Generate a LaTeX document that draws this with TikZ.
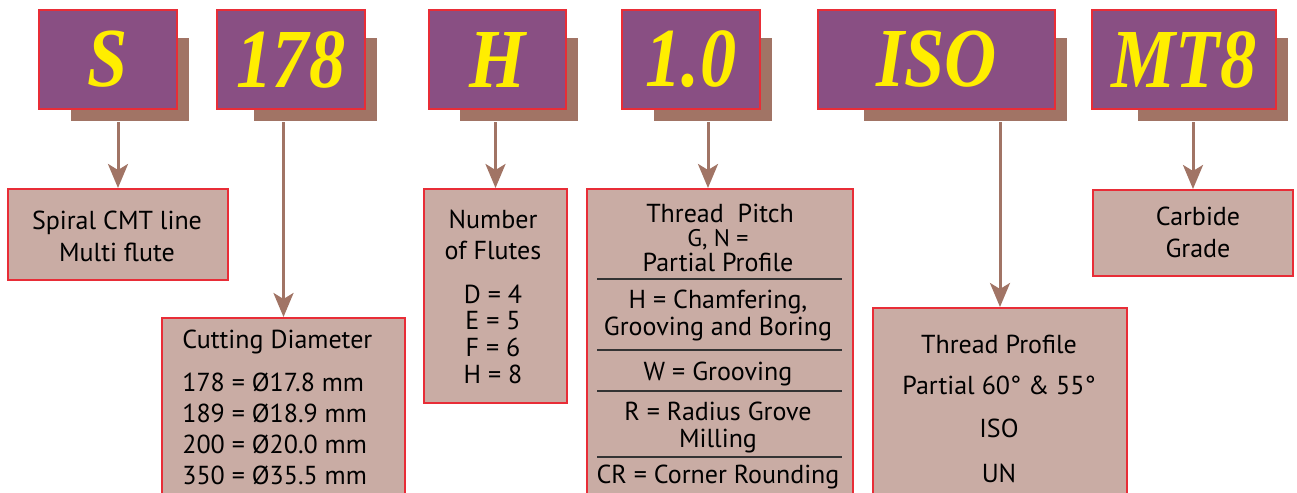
\documentclass[tikz,border=0pt]{standalone}
\usepackage{fontspec}
\setmainfont{PT Sans}
\newfontfamily\codefont[FakeStretch=0.86]{Liberation Serif}
\usetikzlibrary{arrows.meta}
\usetikzlibrary{calc}
\definecolor{TagPurple}{RGB}{137,79,131}
\definecolor{TagShadow}{RGB}{161,116,101}
\definecolor{TagYellow}{RGB}{255,238,0}
\definecolor{BoxFill}{RGB}{201,172,164}
\definecolor{BoxRed}{RGB}{232,45,55}
\tikzset{
	>={Stealth[length=12pt, width=10pt, inset=3pt]},
	codebox/.style={draw=BoxRed, line width=1pt, fill=TagPurple, text=TagYellow,
		minimum height=49.5pt, inner sep=0pt,
		font=\codefont\bfseries\itshape\fontsize{42}{42}\selectfont},
	shade/.style={fill=TagShadow},
	infobox/.style={draw=BoxRed, line width=1pt, fill=BoxFill, anchor=north west, inner sep=0pt},
	txt/.style={anchor=base, inner sep=0pt, font=\fontsize{13}{15}\selectfont},
	smalltxt/.style={anchor=base, inner sep=0pt, font=\fontsize{12}{14}\selectfont},
	link/.style={TagShadow, line width=1.5pt, ->},
	rule/.style={black!80, line width=1pt},
}

\begin{document}
\begin{tikzpicture}[x=0.5pt, y=-0.5pt]
	\useasboundingbox (0,0) rectangle (1297,493);

	% code letters with their shadows
	\foreach \name/\txt/\cx/\w/\sl in {s/S/108/138/32, dia/178/291/148/37, fl/H/497.5/137/31,
		pitch/1.0/691/138/32, prof/ISO/936.5/237/46, grade/MT8/1184/184/46}{
		\fill[shade] ({\cx-\w/2+\sl},38) rectangle ({\cx+\w/2+12},121);
		\node[codebox, minimum width={\w*0.5pt}] (tag-\name) at (\cx,59.5) {\txt};
	}

	% Spiral line
	\node[infobox, minimum width=110pt, minimum height=45.5pt] (spiral) at (7,188) {};
	\node[txt] (spiral-1) at (117,229) {Spiral CMT line};
	\node[txt] (spiral-2) at (117,261) {Multi flute};

	% cutting diameter
	\node[infobox, minimum width=121.5pt, minimum height=110pt] (cutting) at (161,317) {};
	\node[txt, anchor=base west] (cutting-t) at (182,348) {Cutting Diameter};
	\foreach \code/\dia [count=\i] in {178/17.8, 189/18.9, 200/20.0, 350/35.5}
		\node[txt, anchor=base west] (cutting-\i) at (182,{391+(\i-1)*31.3}) {\code\ = Ø\dia\ mm};

	% flutes
	\node[infobox, minimum width=71.5pt, minimum height=107pt] (flutes) at (423,188) {};
	\node[txt] (flutes-1) at (493,228) {Number};
	\node[txt] (flutes-2) at (493,259) {of Flutes};
	\foreach \l/\n [count=\i] in {D/4, E/5, F/6, H/8}
		\node[txt] (flutes-\l) at (493,{303+(\i-1)*26.7}) {\l\ = \n};

	% thread pitch
	\node[infobox, minimum width=133pt, minimum height=170pt] (pitch) at (586,188) {};
	\node[txt] (pitch-1) at (720,222) {Thread~~Pitch};
	\node[smalltxt] (pitch-2) at (718,246) {G, N =};
	\node[txt] (pitch-3) at (718,271) {Partial Profile};
	\node[txt] (pitch-4) at (718,308) {H = Chamfering,};
	\node[txt] (pitch-5) at (718,335) {Grooving and Boring};
	\node[txt] (pitch-6) at (718,380) {W = Grooving};
	\node[txt] (pitch-7) at (718,420) {R = Radius Grove};
	\node[txt] (pitch-8) at (718,447) {Milling};
	\node[txt] (pitch-9) at (718,483) {CR = Corner Rounding};
	\foreach \y in {279,350,391,457}
		\draw[rule] (597,\y) -- (842,\y);

	% thread profile
	\node[infobox, minimum width=127pt, minimum height=110pt] (profile) at (872,307) {};
	\node[txt] (profile-1) at (999,353) {Thread Profile};
	\node[txt] (profile-2) at (999,394) {Partial 60° \& 55°};
	\node[txt] (profile-3) at (999,437) {ISO};
	\node[txt] (profile-4) at (999,482) {UN};

	% carbide grade
	\node[infobox, minimum width=100pt, minimum height=43pt] (grade) at (1092,189) {};
	\node[txt] (grade-1) at (1198,225) {Carbide};
	\node[txt] (grade-2) at (1198,257) {Grade};

	% arrows from the shadows down
	\draw[link] ($(tag-s.south -| spiral.north)+(0,12)$) -- (spiral.north);
	\draw[link] ($(tag-dia.south -| cutting.north)+(0,12)$) -- (cutting.north);
	\draw[link] ($(tag-fl.south -| flutes.north)+(0,12)$) -- (flutes.north);
	\draw[link] ($(tag-pitch.south -| pitch.north)+(-12,12)$) -- ($(pitch.north)+(-12,0)$);
	\draw[link] ($(tag-prof.south -| profile.north)+(0,12)$) -- (profile.north);
	\draw[link] ($(tag-grade.south -| grade.north)+(0,12)$) -- (grade.north);
\end{tikzpicture}
\end{document}
